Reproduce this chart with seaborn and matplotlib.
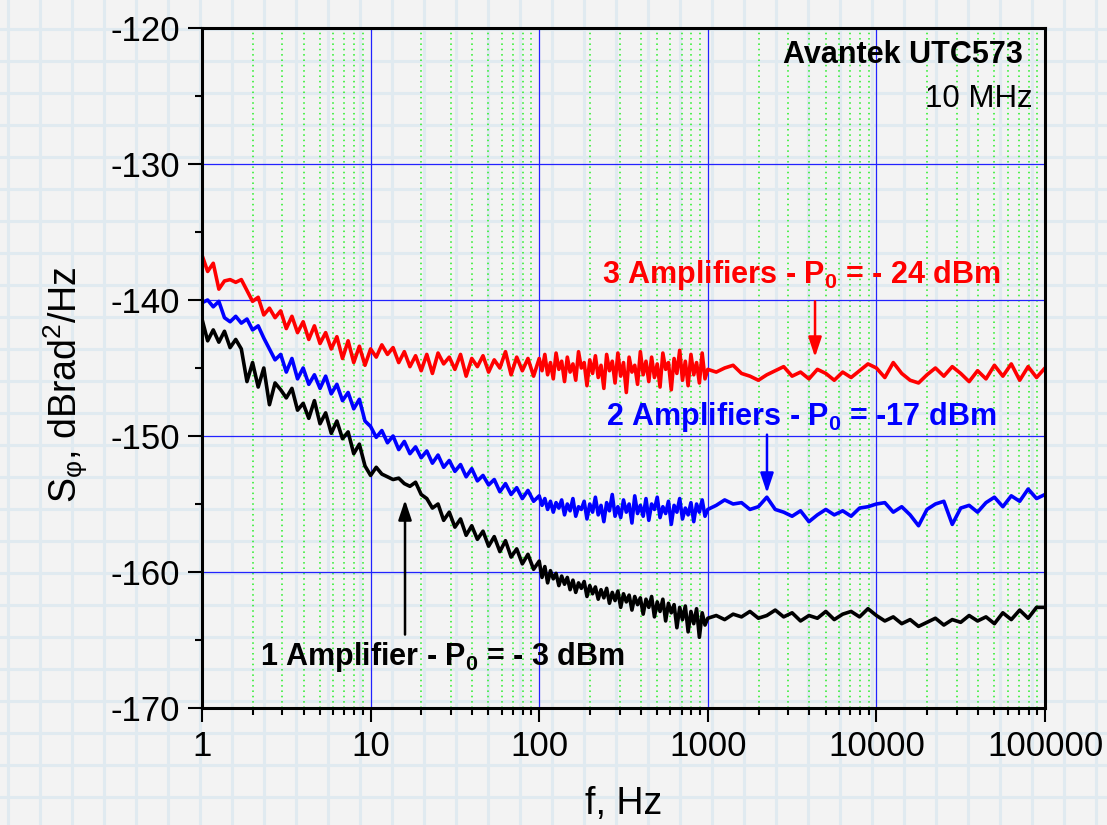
import pandas as pd
import seaborn as sns
import matplotlib.pyplot as plt
from matplotlib.ticker import FixedLocator, FixedFormatter, LogLocator, MultipleLocator, NullFormatter

# frequency mantissas, 1/60 decade steps
mant = [1.000, 1.039, 1.080, 1.122, 1.166, 1.212, 1.259, 1.308, 1.359, 1.413,
        1.468, 1.525, 1.585, 1.647, 1.711, 1.778, 1.848, 1.920, 1.995, 2.073,
        2.154, 2.239, 2.326, 2.418, 2.512, 2.610, 2.712, 2.818, 2.929, 3.043,
        3.162, 3.286, 3.415, 3.548, 3.687, 3.831, 3.981, 4.137, 4.299, 4.467,
        4.642, 4.824, 5.012, 5.208, 5.412, 5.623, 5.843, 6.072, 6.310, 6.556,
        6.813, 7.079, 7.356, 7.644, 7.943, 8.254, 8.577, 8.913, 9.261, 9.624]
m30 = mant[::2]
m20 = mant[::3]
freq = ([m for m in m30] + [m * 10 for m in m30] + [m * 100 for m in mant]
        + [m * 1e3 for m in m20] + [m * 1e4 for m in m20] + [1e5])

# 3 amplifiers, P0 = -24 dBm
red_1_10 = [-136.7, -137.9, -137.3, -139.2, -138.6, -138.5, -138.7, -138.5, -139.3, -140.1,
            -139.8, -141.1, -140.6, -141.3, -140.8, -142.1, -141.2, -142.4, -141.6, -142.9,
            -141.9, -143.2, -142.4, -143.6, -142.7, -144.3, -143.0, -144.6, -143.4, -144.8]
red_10_100 = [-143.6, -144.2, -143.3, -144.0, -143.5, -144.6, -143.8, -144.9, -144.1, -145.2,
              -144.0, -145.4, -143.9, -144.7, -144.2, -145.1, -144.0, -145.6, -144.3, -144.9,
              -144.1, -145.3, -144.4, -145.0, -143.8, -145.5, -144.2, -145.2, -144.3, -145.6]
red_100_1k = [-144.3, -145.2, -144.0, -145.5, -144.6, -145.8, -143.9, -145.1, -144.5, -146.0,
              -144.2, -145.3, -144.7, -145.9, -143.8, -145.0, -144.6, -146.3, -144.4, -145.4,
              -144.1, -145.7, -144.8, -146.5, -144.0, -145.2, -144.5, -146.1, -143.9, -145.6,
              -144.6, -146.8, -144.2, -145.3, -144.8, -146.2, -143.8, -145.5, -144.5, -146.0,
              -144.2, -145.7, -144.7, -146.4, -143.9, -145.1, -144.6, -146.6, -144.3, -145.4,
              -143.7, -145.9, -144.5, -146.3, -144.0, -145.5, -144.6, -146.1, -143.9, -145.8]
red_1k_10k = [-145.1, -145.3, -145.0, -144.8, -145.4, -145.6, -145.9, -145.5, -145.2, -144.9,
              -145.6, -145.3, -145.8, -145.1, -145.4, -145.9, -145.3, -145.7, -145.2, -144.7]
red_10k_100k = [-145.0, -145.7, -144.6, -145.4, -145.9, -146.1, -145.5, -145.0, -145.6, -144.9,
                -145.4, -146.0, -145.2, -145.8, -144.8, -145.6, -144.7, -145.9, -144.9, -145.7,
                -145.0]

# 2 amplifiers, P0 = -17 dBm
blue_1_10 = [-140.2, -140.0, -140.5, -140.1, -141.3, -141.6, -141.2, -141.7, -141.4, -142.2,
             -141.9, -142.8, -143.6, -144.4, -144.0, -145.3, -144.3, -145.8, -145.0, -146.2,
             -145.5, -146.5, -145.6, -146.9, -146.2, -147.4, -146.8, -148.0, -147.3, -148.9]
blue_10_100 = [-149.3, -150.1, -149.6, -150.5, -150.0, -151.0, -150.4, -151.3, -150.8, -151.6,
               -151.1, -152.0, -151.4, -152.3, -151.8, -152.6, -152.1, -153.0, -152.4, -153.3,
               -152.9, -153.6, -153.2, -154.1, -153.5, -154.3, -153.8, -154.6, -154.0, -154.8]
blue_100_1k = [-154.4, -155.1, -154.6, -155.4, -154.8, -155.6, -154.9, -155.3, -154.7, -155.8,
               -155.0, -155.5, -154.6, -155.9, -155.2, -155.4, -154.8, -156.1, -155.0, -155.6,
               -154.5, -155.8, -155.1, -156.3, -154.9, -155.5, -154.3, -155.9, -155.2, -156.0,
               -154.7, -155.6, -155.0, -156.4, -154.4, -155.7, -155.1, -155.9, -154.6, -156.2,
               -155.0, -155.4, -154.5, -156.0, -155.2, -155.7, -154.8, -156.5, -155.1, -155.6,
               -154.6, -156.1, -155.3, -155.8, -154.9, -156.3, -155.0, -155.6, -154.7, -155.9]
blue_1k_10k = [-155.4, -155.1, -154.7, -155.0, -154.9, -155.4, -155.2, -154.5, -155.4, -155.6,
               -155.9, -155.5, -156.3, -155.8, -155.4, -155.8, -155.5, -155.9, -155.3, -155.2]
blue_10k_100k = [-155.0, -154.9, -155.6, -155.2, -155.8, -156.6, -155.4, -155.0, -154.8, -156.5,
                 -155.3, -155.1, -155.6, -154.9, -154.5, -155.2, -154.4, -154.8, -153.9, -154.6,
                 -154.3]

# 1 amplifier, P0 = -3 dBm
black_1_10 = [-141.4, -143.0, -142.2, -143.1, -142.3, -143.5, -142.9, -143.6, -146.0, -144.6,
              -146.4, -145.0, -147.7, -146.1, -146.6, -147.2, -146.5, -148.1, -147.6, -148.7,
              -147.4, -149.1, -148.3, -149.8, -148.9, -150.2, -149.7, -151.3, -150.6, -152.2]
black_10_100 = [-152.9, -152.3, -152.8, -153.0, -153.2, -153.1, -153.5, -153.7, -153.4, -154.3,
                -154.6, -155.3, -155.0, -156.2, -155.6, -156.7, -156.1, -157.3, -156.6, -157.6,
                -157.0, -158.1, -157.4, -158.5, -157.7, -158.9, -158.3, -159.4, -158.7, -159.8]
black_100_1k = [-159.2, -160.4, -159.6, -160.8, -159.9, -160.5, -160.1, -161.0, -160.3, -160.9,
                -160.4, -161.3, -160.6, -161.5, -160.8, -161.2, -160.7, -161.8, -161.0, -161.6,
                -161.1, -162.0, -161.3, -161.9, -161.2, -162.3, -161.5, -162.1, -161.4, -162.6,
                -161.6, -162.2, -161.7, -162.8, -161.8, -162.4, -161.9, -163.1, -162.0, -162.6,
                -161.8, -163.3, -162.2, -162.9, -162.0, -163.6, -162.3, -163.0, -162.4, -164.1,
                -162.6, -163.5, -162.5, -164.4, -162.9, -163.8, -162.7, -164.8, -163.0, -163.9]
black_1k_10k = [-163.4, -163.2, -163.5, -163.1, -163.3, -162.9, -163.4, -163.2, -162.8, -163.3,
                -163.0, -163.6, -163.2, -163.4, -162.9, -163.5, -163.1, -162.9, -163.3, -162.7]
black_10k_100k = [-163.2, -163.6, -163.3, -163.8, -163.5, -164.0, -163.7, -163.4, -163.9, -163.5,
                  -163.7, -163.2, -163.6, -163.3, -163.8, -163.0, -163.5, -162.8, -163.4, -162.6,
                  -162.6]

red = red_1_10 + red_10_100 + red_100_1k + red_1k_10k + red_10k_100k
blue = blue_1_10 + blue_10_100 + blue_100_1k + blue_1k_10k + blue_10k_100k
black = black_1_10 + black_10_100 + black_100_1k + black_1k_10k + black_10k_100k

x_ticks = [1, 10, 100, 1000, 10000, 100000]
x_tick_labels = ['1', '10', '100', '1000', '10000', '100000']
y_ticks = [-170, -160, -150, -140, -130, -120]

df = pd.concat([
    pd.DataFrame({'f': freq, 'S': red, 'series': '3 amp'}),
    pd.DataFrame({'f': freq, 'S': blue, 'series': '2 amp'}),
    pd.DataFrame({'f': freq, 'S': black, 'series': '1 amp'}),
])

sns.set_style('ticks', {'axes.edgecolor': 'black', 'text.color': 'black',
                        'xtick.color': 'black', 'ytick.color': 'black',
                        'axes.labelcolor': 'black'})
plt.rcParams['font.family'] = ['Liberation Sans', 'DejaVu Sans']
plt.rcParams['axes.unicode_minus'] = False
plt.rcParams['mathtext.fontset'] = 'custom'
plt.rcParams['mathtext.rm'] = 'Liberation Sans'
plt.rcParams['mathtext.it'] = 'Liberation Sans:italic'
plt.rcParams['mathtext.bf'] = 'Liberation Sans:bold'

fig = plt.figure(figsize=(11.07, 8.25), dpi=100, facecolor='#f3f3f3')

# graph-paper background
bg = fig.add_axes([0, 0, 1, 1], zorder=-5)
bg.set_xlim(0, 1107)
bg.set_ylim(825, 0)
bg.axis('off')
for xp in range(8, 1107, 32):
    bg.axvline(xp, color='#e0eaf0', lw=2.2)
for yp in range(29, 825, 32):
    bg.axhline(yp, color='#e0eaf0', lw=2.2)

ax = fig.add_axes([202 / 1107, 117 / 825, 843 / 1107, 680 / 825])
ax.set_facecolor('none')

sns.lineplot(data=df, x='f', y='S', hue='series', estimator=None, legend=False,
             palette={'3 amp': '#ff0000', '2 amp': '#0000ff', '1 amp': '#000000'},
             linewidth=2.6, ax=ax, zorder=3)

ax.set_xscale('log')
ax.set_xlim(1, 1e5)
ax.set_ylim(-170, -120)
ax.xaxis.set_major_locator(FixedLocator(x_ticks))
ax.xaxis.set_major_formatter(FixedFormatter(x_tick_labels))
ax.xaxis.set_minor_locator(LogLocator(base=10, subs=range(2, 10)))
ax.xaxis.set_minor_formatter(NullFormatter())
ax.yaxis.set_major_locator(FixedLocator(y_ticks))
ax.yaxis.set_minor_locator(MultipleLocator(5))

ax.grid(which='major', color='#2222ff', lw=0.9, zorder=1)
ax.xaxis.grid(which='minor', color='#22ee22', lw=1.1, ls=(0, (1, 2.5)))
ax.yaxis.grid(False, which='minor')
ax.set_axisbelow(True)

for s in ax.spines.values():
    s.set_linewidth(2.2)
    s.set_color('black')
    s.set_zorder(4)
ax.tick_params(which='major', length=10, width=1.5, direction='out', labelsize=25, pad=6)
ax.tick_params(which='minor', length=5, width=1.5, direction='out')
ax.tick_params(top=False, right=False, which='both')

ax.set_xlabel('f, Hz', fontsize=27)
ax.xaxis.set_label_coords(0.5, -0.115)
ax.set_ylabel(r'S$_{\mathrm{\varphi}}$, dBrad$^{2}$/Hz', fontsize=27)
ax.yaxis.set_label_coords(-0.133, 0.475)

ax.text(0.974, 0.9485, 'Avantek UTC573', transform=ax.transAxes, ha='right',
        va='baseline', fontsize=22, fontweight='bold')
ax.text(0.9846, 0.8838, '10 MHz', transform=ax.transAxes, ha='right',
        va='baseline', fontsize=22.5)

ax.text(3570, -138.75, r'3 Amplifiers - P$_{\mathbf{0}}$ = - 24 dBm', ha='center',
        va='baseline', fontsize=22, fontweight='bold', color='#ff0000', zorder=5)
ax.text(3600, -149.19, r'2 Amplifiers - P$_{\mathbf{0}}$ = -17 dBm', ha='center',
        va='baseline', fontsize=22, fontweight='bold', color='#0000ff', zorder=5)
ax.text(26.5, -166.84, r'1 Amplifier - P$_{\mathbf{0}}$ = - 3 dBm', ha='center',
        va='baseline', fontsize=22, fontweight='bold', color='#000000', zorder=5)

arrow = '-|>,head_length=0.6,head_width=0.2'
ax.annotate('', xy=(4325, -144.2), xytext=(4325, -140.1),
            arrowprops=dict(arrowstyle=arrow, color='#ff0000', lw=1.8,
                            mutation_scale=20, shrinkA=0, shrinkB=0), zorder=5)
ax.annotate('', xy=(2244, -154.2), xytext=(2244, -149.9),
            arrowprops=dict(arrowstyle=arrow, color='#0000ff', lw=1.8,
                            mutation_scale=20, shrinkA=0, shrinkB=0), zorder=5)
ax.annotate('', xy=(16.0, -154.7), xytext=(16.0, -164.6),
            arrowprops=dict(arrowstyle=arrow, color='#000000', lw=1.8,
                            mutation_scale=20, shrinkA=0, shrinkB=0), zorder=5)

fig.savefig('out.png', dpi=100, facecolor=fig.get_facecolor())
